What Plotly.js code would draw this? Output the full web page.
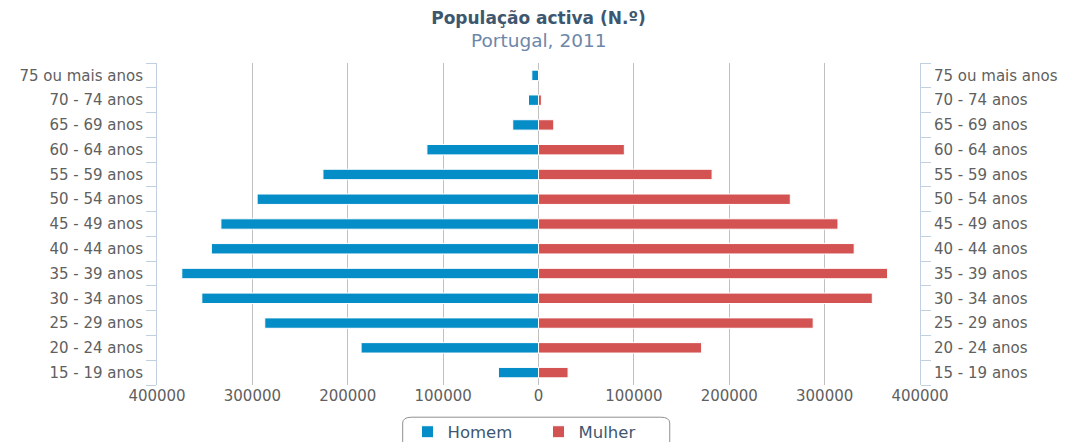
<!DOCTYPE html>
<html>
<head>
<meta charset="utf-8">
<script src="https://cdn.plot.ly/plotly-3.0.1.min.js"></script>
<style>
  html, body { margin: 0; padding: 0; background: #ffffff; }
  #chart { width: 1069px; height: 442px; }
</style>
</head>
<body>
<div id="chart"></div>
<script>
// Age groups (bottom to top)
const categories = [
  "15 - 19 anos", "20 - 24 anos", "25 - 29 anos", "30 - 34 anos",
  "35 - 39 anos", "40 - 44 anos", "45 - 49 anos", "50 - 54 anos",
  "55 - 59 anos", "60 - 64 anos", "65 - 69 anos", "70 - 74 anos",
  "75 ou mais anos"
];
// Active population, men
const homem = [42000, 186000, 287000, 353000, 374000, 343000, 333000, 295000, 226000, 117000, 27000, 10500, 7000];
// Active population, women
const mulher = [31000, 171000, 288000, 350000, 366000, 331000, 314000, 264000, 182000, 90000, 16000, 3000, 1200];
const xTickVals = [-400000, -300000, -200000, -100000, 0, 100000, 200000, 300000, 400000];
const xTickText = ["400000", "300000", "200000", "100000", "0", "100000", "200000", "300000", "400000"];
const titleText = "População activa (N.º)";
const subtitleText = "Portugal, 2011";

const FONT = "DejaVu Sans, Verdana, sans-serif";
const AXISC = "#C0D0E0";

const traces = [
  {
    type: "bar", orientation: "h", name: "Homem",
    y: categories, x: homem.map(v => -v),
    customdata: homem,
    hovertemplate: "%{y}: %{customdata}<extra>Homem</extra>",
    marker: { color: "#058DC7", line: { color: "#ffffff", width: 1 } },
    yaxis: "y"
  },
  {
    type: "bar", orientation: "h", name: "Mulher",
    y: categories, x: mulher,
    hovertemplate: "%{y}: %{x}<extra>Mulher</extra>",
    marker: { color: "#D35252", line: { color: "#ffffff", width: 1 } },
    yaxis: "y2"
  }
];

const yCommon = {
  type: "category",
  categoryorder: "array",
  categoryarray: categories,
  range: [-0.5, categories.length - 0.5],
  showgrid: false,
  zeroline: false,
  showline: true,
  linecolor: AXISC,
  linewidth: 1,
  ticks: "outside",
  tickson: "boundaries",
  ticklen: 10,
  tickcolor: AXISC,
  tickwidth: 1,
  ticklabelstandoff: 10,
  tickfont: { family: FONT, size: 15, color: "#606060" },
  fixedrange: true
};

const layout = {
  width: 1069, height: 442,
  margin: { l: 157, r: 149, t: 63, b: 57, pad: 0 },
  paper_bgcolor: "#ffffff",
  plot_bgcolor: "#ffffff",
  barmode: "overlay",
  bargap: 0.58,
  showlegend: true,
  title: {
    text: "<b>" + titleText + "</b>",
    font: { family: FONT, size: 17, color: "#3E576F" },
    x: 0.5, xanchor: "center", xref: "paper",
    y: 1 - 18 / 442, yanchor: "middle", yref: "container"
  },
  annotations: [
    {
      text: subtitleText,
      xref: "paper", yref: "paper",
      x: 0.5, xanchor: "center",
      y: (322 + 22) / 322, yanchor: "middle",
      showarrow: false,
      font: { family: FONT, size: 18.5, color: "#6D87A8" }
    }
  ],
  xaxis: {
    range: [-400000, 400000],
    tickmode: "array",
    tickvals: xTickVals,
    ticktext: xTickText,
    showgrid: true,
    gridcolor: "#C0C0C0",
    gridwidth: 1,
    zeroline: false,
    showline: false,
    ticks: "",
    tickfont: { family: FONT, size: 15, color: "#606060" },
    fixedrange: true
  },
  yaxis: Object.assign({}, yCommon, { side: "left" }),
  yaxis2: Object.assign({}, yCommon, { side: "right", overlaying: "y" }),
  legend: {
    orientation: "h",
    x: 0.5, xanchor: "center", xref: "paper",
    y: 10 / 442, yanchor: "middle", yref: "container",
    bgcolor: "rgba(0,0,0,0)",
    borderwidth: 0,
    font: { family: FONT, size: 16.5, color: "#3E576F" },
    itemwidth: 30,
    entrywidth: 86,
    entrywidthmode: "pixels",
    traceorder: "normal"
  },
  shapes: [
    {
      type: "path", xref: "paper", yref: "paper",
      path: "M 0.322,-0.4 L 0.322,-0.118 Q 0.322,-0.1 0.334,-0.1 L 0.66,-0.1 Q 0.672,-0.1 0.672,-0.118 L 0.672,-0.4 Z",
      line: { color: "#909090", width: 1 },
      fillcolor: "rgba(0,0,0,0)",
      layer: "below"
    }
  ]
};

Plotly.newPlot("chart", traces, layout, { displayModeBar: false, staticPlot: true });
</script>
</body>
</html>
